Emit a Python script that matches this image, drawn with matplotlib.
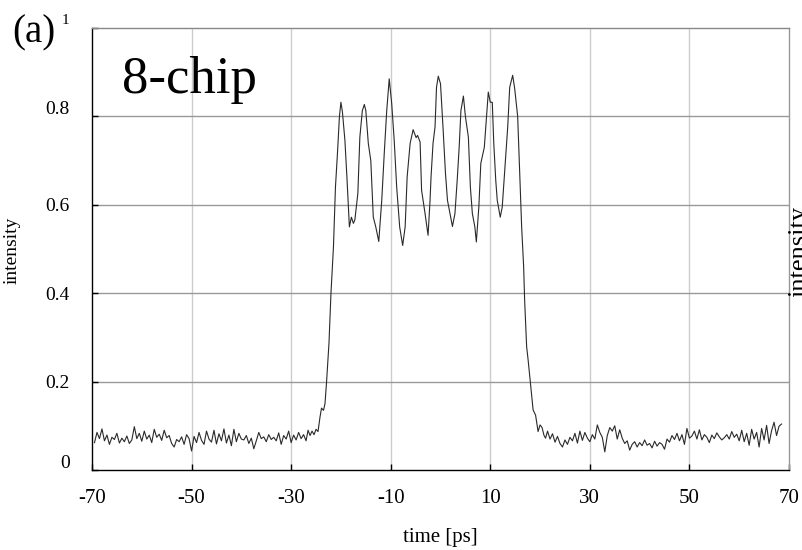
import numpy as np
import matplotlib
matplotlib.use("Agg")
import matplotlib.pyplot as plt
from matplotlib.transforms import ScaledTranslation

plt.rcParams['font.family'] = ['Liberation Serif', 'DejaVu Serif']
plt.rcParams['axes.unicode_minus'] = False

# ---------------------------
# Measured trace, 8-chip pulse
# ---------------------------
# flat background before the pulse, 0.5 ps spacing
lead_t0, lead_step = -69.5, 0.5
lead_vals = [
    0.062, 0.085, 0.071, 0.093, 0.066, 0.079, 0.058, 0.074, 0.069, 0.083,
    0.061, 0.072, 0.064, 0.077, 0.060, 0.068, 0.098, 0.071, 0.083, 0.065,
    0.088, 0.070, 0.079, 0.062, 0.092, 0.074, 0.081, 0.067, 0.090, 0.073,
    0.078, 0.060, 0.052, 0.069, 0.064, 0.075, 0.058, 0.080, 0.071, 0.043,
    0.076, 0.062, 0.085, 0.067, 0.058, 0.088, 0.070, 0.063, 0.090, 0.059,
    0.082, 0.066, 0.093, 0.061, 0.079, 0.055, 0.092, 0.064, 0.083, 0.070,
    0.068, 0.078, 0.060, 0.072, 0.048, 0.066, 0.085, 0.071, 0.075, 0.064,
    0.080, 0.069, 0.074, 0.066, 0.084, 0.058, 0.078, 0.070, 0.088, 0.062,
    0.079, 0.068, 0.085, 0.071, 0.080,
]

# pulse train itself (time in ps, intensity)
pulse_t = [
    -27.0, -26.6, -26.2, -25.8, -25.4, -25.0, -24.6, -24.2, -23.9, -23.5,
    -23.2, -22.9, -22.4, -22.0, -21.5, -21.1, -20.7, -20.3, -20.0, -19.7,
    -19.2, -18.8, -18.3, -17.9, -17.5, -17.2, -16.6, -16.2, -15.7, -15.3,
    -15.0, -14.5, -14.0, -13.5, -13.0, -12.4, -11.8, -11.3, -10.8, -10.3,
    -9.8, -9.3, -8.8, -8.2, -7.6, -7.1, -6.7, -6.1, -5.5, -4.9,
    -4.6, -4.1, -3.8, -3.1, -2.5, -2.1, -1.9, -1.5, -1.1, -0.8,
    -0.45, 0.0, 0.5, 1.0, 1.4, 1.9, 2.4, 2.9, 3.35, 3.75,
    4.1, 4.6, 5.0, 5.6, 6.0, 6.4, 6.9, 7.2, 7.7, 8.1,
    8.8, 9.1, 9.6, 10.0, 10.4, 10.7, 11.1, 11.4, 12.0, 12.4,
    12.9, 13.5, 13.9, 14.5, 14.9, 15.5, 15.9, 16.3, 16.7, 16.9,
    17.3, 17.6, 18.2, 18.6, 19.1, 19.6, 20.0, 20.4, 20.8, 21.1,
]
pulse_vals = [
    0.066, 0.090, 0.078, 0.088, 0.080, 0.092, 0.087, 0.120, 0.140, 0.135,
    0.150, 0.197, 0.287, 0.400, 0.505, 0.640, 0.716, 0.800, 0.832, 0.810,
    0.746, 0.663, 0.550, 0.572, 0.558, 0.566, 0.626, 0.753, 0.813, 0.827,
    0.813, 0.739, 0.700, 0.572, 0.550, 0.517, 0.610, 0.716, 0.813, 0.885,
    0.829, 0.746, 0.640, 0.550, 0.508, 0.550, 0.663, 0.739, 0.770, 0.752,
    0.757, 0.742, 0.633, 0.580, 0.531, 0.610, 0.663, 0.739, 0.776, 0.866,
    0.891, 0.874, 0.776, 0.671, 0.610, 0.580, 0.551, 0.580, 0.655, 0.730,
    0.813, 0.846, 0.800, 0.753, 0.640, 0.580, 0.550, 0.516, 0.595, 0.694,
    0.730, 0.776, 0.855, 0.832, 0.832, 0.739, 0.655, 0.610, 0.572, 0.595,
    0.678, 0.776, 0.866, 0.893, 0.863, 0.800, 0.678, 0.550, 0.460, 0.384,
    0.279, 0.249, 0.181, 0.136, 0.124, 0.087, 0.102, 0.096, 0.078, 0.072,
]

# flat background after the pulse, 0.5 ps spacing
tail_t0, tail_step = 21.5, 0.5
tail_vals = [
    0.088, 0.070, 0.082, 0.063, 0.076, 0.060, 0.052, 0.068, 0.058, 0.074,
    0.066, 0.083, 0.061, 0.088, 0.067, 0.085, 0.072, 0.064, 0.080, 0.070,
    0.102, 0.085, 0.074, 0.041, 0.078, 0.096, 0.088, 0.100, 0.070, 0.091,
    0.072, 0.060, 0.066, 0.045, 0.058, 0.064, 0.052, 0.062, 0.055, 0.068,
    0.056, 0.060, 0.050, 0.065, 0.054, 0.062, 0.058, 0.047, 0.070, 0.063,
    0.078, 0.069, 0.083, 0.066, 0.080, 0.058, 0.094, 0.072, 0.077, 0.088,
    0.070, 0.091, 0.068, 0.080, 0.074, 0.062, 0.079, 0.071, 0.084, 0.075,
    0.068, 0.073, 0.080, 0.070, 0.087, 0.074, 0.081, 0.066, 0.090, 0.064,
    0.083, 0.056, 0.092, 0.070, 0.085, 0.052, 0.094, 0.068, 0.101, 0.060,
    0.089, 0.108, 0.078, 0.099, 0.104,
]

x_ticks = [-70, -50, -30, -10, 10, 30, 50, 70]
y_ticks = [0, 0.2, 0.4, 0.6, 0.8, 1]
y_tick_labels = ['0', '0.2', '0.4', '0.6', '0.8', '1']

lead_t = lead_t0 + lead_step * np.arange(len(lead_vals))
tail_t = tail_t0 + tail_step * np.arange(len(tail_vals))
t = np.concatenate([lead_t, pulse_t, tail_t])
inten = np.concatenate([lead_vals, pulse_vals, tail_vals])

# ---------------------------
# Figure
# ---------------------------
fig = plt.figure(figsize=(8.02, 5.5), dpi=100)
ax = fig.add_axes([92/802, 80/550, 697/802, 442/550])

ax.plot(t, inten, color='#2a2a2a', lw=0.8)

ax.set_xlim(-70, 70)
ax.set_ylim(0, 1)
ax.set_xticks(x_ticks)
ax.set_yticks(y_ticks)
ax.set_yticklabels(y_tick_labels)

for x in x_ticks[1:-1]:
    ax.axvline(x, color='#cccccc', lw=1.0, zorder=0)
for y in y_ticks[1:-1]:
    ax.axhline(y, color='#999999', lw=1.0, zorder=0)

ax.tick_params(axis='x', direction='in', length=4, width=1, pad=14, labelsize=15)
ax.tick_params(axis='y', direction='in', length=4, width=1, pad=16, labelsize=14)
ax.tick_params(top=False, right=False)

ax.spines['left'].set_color('black')
ax.spines['bottom'].set_color('black')
ax.spines['top'].set_color('#888888')
ax.spines['right'].set_color('#999999')
for s in ax.spines.values():
    s.set_linewidth(1.0)

# a few y labels sit a little higher than their ticks
shift = ScaledTranslation(0, 0.09, fig.dpi_scale_trans)
for lab in ax.get_yticklabels():
    if lab.get_text() in ('0', '0.8', '1'):
        lab.set_transform(lab.get_transform() + shift)
    if lab.get_text() == '1':
        lab.set_fontsize(11)

ax.set_xlabel('time [ps]', fontsize=15, labelpad=14)
fig.text(12/802, 1 - 250/550, 'intensity', rotation=90, ha='center', va='center', fontsize=14)
# label of the neighbouring panel, only its edge shows
fig.text(799/802, 1 - 251/550, 'intensity', rotation=90, ha='center', va='center', fontsize=19)

fig.text(12/802, 1 - 42/550, '(a)', fontsize=28, ha='left', va='baseline')
ax.text(122/802, 1 - 93/550, '8-chip', transform=fig.transFigure,
        fontsize=38, ha='left', va='baseline')

fig.savefig('out.png', dpi=100)
